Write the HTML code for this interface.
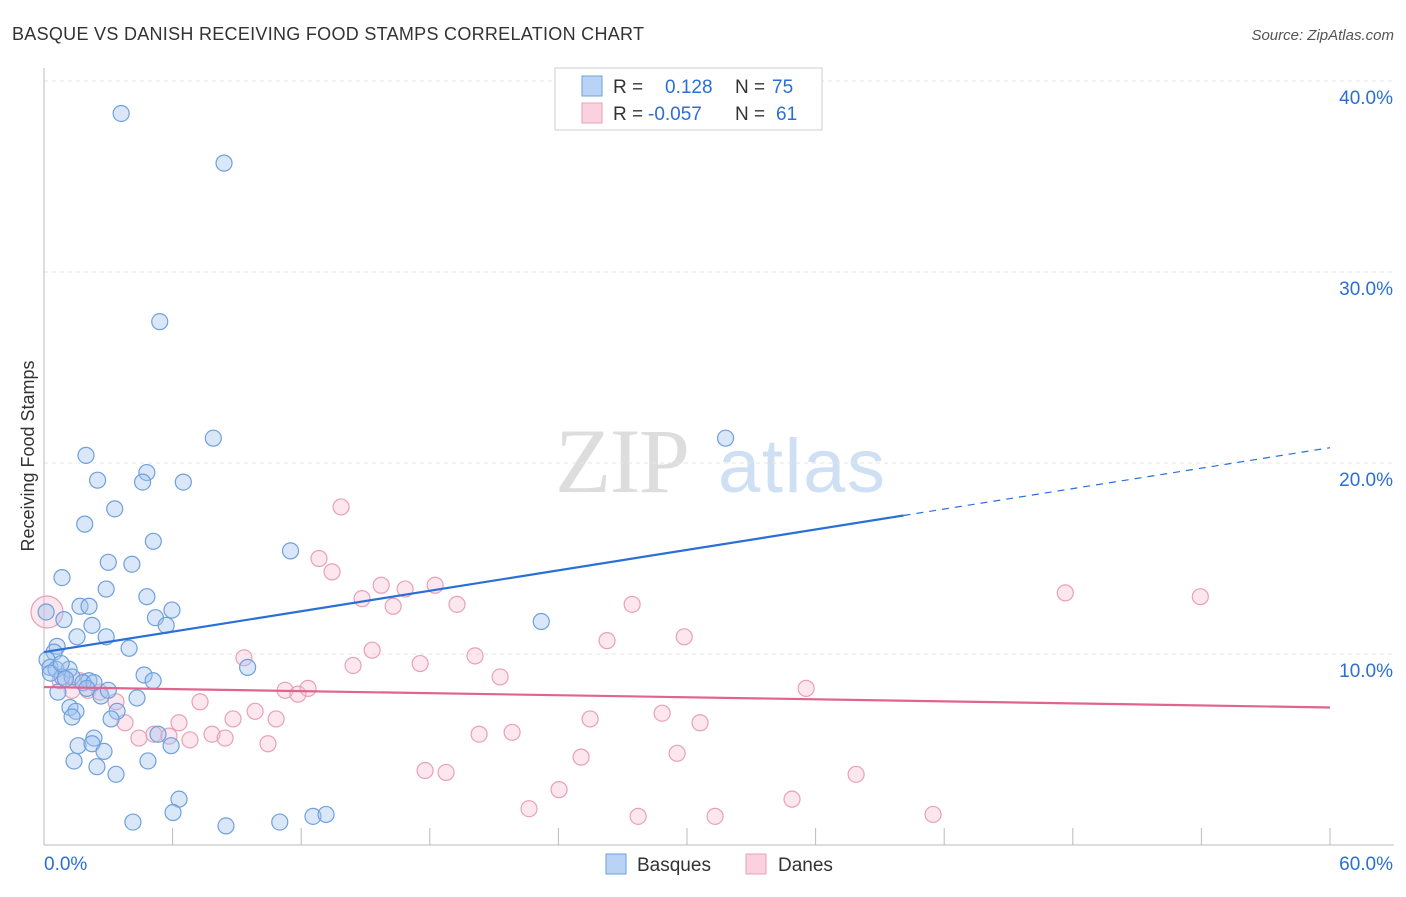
<!DOCTYPE html>
<html><head><meta charset="utf-8"><style>
body{margin:0;background:#fff;font-family:"Liberation Sans",sans-serif;}
svg text{font-family:"Liberation Sans",sans-serif;}
</style></head><body>
<svg id="c" width="1406" height="892">
<text x="12" y="40" font-size="18" fill="#333" textLength="632">BASQUE VS DANISH RECEIVING FOOD STAMPS CORRELATION CHART</text>
<text x="1394" y="40" font-size="15" fill="#555" font-style="italic" text-anchor="end">Source: ZipAtlas.com</text>
<text x="34" y="456" font-size="18" fill="#333" transform="rotate(-90 34 456)" text-anchor="middle">Receiving Food Stamps</text>
<text x="555" y="492" font-size="92" fill="#ddd" style="font-family:'Liberation Serif',serif" textLength="135">ZIP</text>
<text x="718" y="492" font-size="76" fill="#cfe0f4" textLength="167">atlas</text>
<g id="grid"></g><g id="pts"></g><g id="lines"></g>
<g>
<rect x="555" y="68" width="267" height="62" fill="#fff" stroke="#ccc"/>
<rect x="582" y="76" width="20" height="20" fill="#b8d3f5" stroke="#6fa0dc"/>
<rect x="582" y="103" width="20" height="20" fill="#fbd0df" stroke="#e8a0b8"/>
<text x="613" y="93" font-size="19" fill="#333">R =</text><text x="665" y="93" font-size="19" fill="#2a6fd6">0.128</text>
<text x="735" y="93" font-size="19" fill="#333">N =</text><text x="772" y="93" font-size="19" fill="#2a6fd6">75</text>
<text x="613" y="120" font-size="19" fill="#333">R =</text><text x="648" y="120" font-size="19" fill="#2a6fd6">-0.057</text>
<text x="735" y="120" font-size="19" fill="#333">N =</text><text x="776" y="120" font-size="19" fill="#2a6fd6">61</text>
</g>
<g>
<rect x="606" y="854" width="20" height="20" fill="#b8d3f5" stroke="#6fa0dc"/><text x="637" y="871" font-size="19" fill="#333">Basques</text>
<rect x="746" y="854" width="20" height="20" fill="#fbd0df" stroke="#e8a0b8"/><text x="778" y="871" font-size="19" fill="#333">Danes</text>
</g>
</svg>
<script>
const yTicks=[10,20,30,40];
const xTickLabels=["0.0%","60.0%"];
const blueX=[3.6,8.4,5.4,7.9,31.8,1.96,4.8,2.5,4.6,6.5,3.3,1.9,5.1,11.5,3.0,4.1,0.84,2.9,4.8,1.68,2.1,5.97,5.2,5.7,23.2,0.93,2.24,0.1,1.54,2.9,3.97,0.61,0.47,0.14,9.5,0.28,0.56,1.17,4.67,0.84,1.31,2.1,1.82,2.33,5.09,0.65,2.66,4.34,1.21,1.49,3.41,1.31,3.13,5.32,2.33,1.59,2.24,5.93,2.8,1.4,4.85,2.47,3.36,6.3,4.15,6.02,8.49,11.0,12.55,13.16,0.3,1.0,2.0,3.0,0.8];
const blueY=[38.3,35.7,27.4,21.3,21.3,20.4,19.5,19.1,19.0,19.0,17.6,16.8,15.9,15.4,14.8,14.7,14.0,13.4,13.0,12.5,12.5,12.3,11.9,11.5,11.7,11.8,11.5,12.2,10.9,10.9,10.3,10.4,10.1,9.7,9.3,9.3,9.2,9.2,8.9,8.8,8.8,8.6,8.5,8.5,8.6,8.0,7.8,7.7,7.2,7.0,7.0,6.7,6.6,5.8,5.6,5.2,5.3,5.2,4.9,4.4,4.4,4.1,3.7,2.4,1.2,1.7,1.0,1.2,1.5,1.6,9.0,8.7,8.2,8.1,9.5];
const pinkX=[13.86,12.83,13.44,15.73,16.85,18.25,14.84,16.29,19.27,27.44,47.65,53.95,26.27,29.87,15.31,9.33,20.11,14.42,17.55,21.28,35.56,11.25,11.85,12.32,2.05,2.61,3.36,7.28,9.85,8.82,10.83,6.3,25.48,28.84,30.61,3.78,5.13,7.84,8.45,5.83,6.81,4.43,10.45,20.3,21.84,25.06,29.54,17.78,18.76,37.89,24.03,34.9,22.63,27.72,31.31,41.48,0.14,0.75,1.31,1.68];
const pinkY=[17.7,15.0,14.3,13.6,13.4,13.6,12.9,12.5,12.6,12.6,13.2,13.0,10.7,10.9,10.2,9.8,9.9,9.4,9.5,8.8,8.2,8.1,7.9,8.2,8.1,8.0,7.5,7.5,7.0,6.6,6.6,6.4,6.6,6.9,6.4,6.4,5.8,5.8,5.6,5.7,5.5,5.6,5.3,5.8,5.9,4.6,4.8,3.9,3.8,3.7,2.9,2.4,1.9,1.5,1.5,1.6,12.2,8.6,8.1,8.6];
const blueTrend=[10.1,20.8], pinkTrend=[8.27,7.2];
const X=v=>44+v*(1286/60), Y=v=>845-v*19.1;
const NS="http://www.w3.org/2000/svg";
function mk(t,a,p){const e=document.createElementNS(NS,t);for(const k in a)e.setAttribute(k,a[k]);p.appendChild(e);return e;}
const g=document.getElementById('grid');
yTicks.forEach(t=>{const l=mk('line',{x1:44,x2:1394,y1:Y(t),y2:Y(t),stroke:'#e6e6e6','stroke-dasharray':'4,4'},g);


const tx=mk('text',{x:1393,y:Y(t)+23,'font-size':19,fill:'#2a6fd6','text-anchor':'end'},g);tx.textContent=t.toFixed(1)+'%';

});
mk('line',{x1:44,x2:44,y1:68,y2:845,stroke:'#bbb'},g);
mk('line',{x1:44,x2:1394,y1:845,y2:845,stroke:'#bbb'},g);
for(let i=0;i<=10;i++){mk('line',{x1:X(i*6),x2:X(i*6),y1:828,y2:845,stroke:'#bbb'},g);}
const xl=mk('text',{x:44,y:870,'font-size':19,fill:'#2a6fd6'},g);xl.textContent=xTickLabels[0];


const xr=mk('text',{x:1393,y:870,'font-size':19,fill:'#2a6fd6','text-anchor':'end'},g);xr.textContent=xTickLabels[1];


const p=document.getElementById('pts');
pinkX.forEach((x,i)=>{const c=mk('circle',{cx:X(x),cy:Y(pinkY[i]),r:i==56?16:8,fill:'rgba(245,185,205,0.35)',stroke:'#e8a0b8','stroke-width':1.2},p);

});
blueX.forEach((x,i)=>{const c=mk('circle',{cx:X(x),cy:Y(blueY[i]),r:8,fill:'rgba(160,195,240,0.4)',stroke:'#6fa0dc','stroke-width':1.2},p);

});
const L=document.getElementById('lines');
const bAt=x=>blueTrend[0]+(blueTrend[1]-blueTrend[0])*x/60;
const b1=mk('line',{x1:X(0),y1:Y(bAt(0)),x2:X(40.1),y2:Y(bAt(40.1)),stroke:'#2a6fd6','stroke-width':2.2},L);


const b2=mk('line',{x1:X(40.1),y1:Y(bAt(40.1)),x2:X(60),y2:Y(bAt(60)),stroke:'#2a6fd6','stroke-width':1.2,'stroke-dasharray':'7,6'},L);


const pl=mk('line',{x1:X(0),y1:Y(pinkTrend[0]),x2:X(60),y2:Y(pinkTrend[1]),stroke:'#e0648f','stroke-width':2.2},L);


</script>
</body></html>
